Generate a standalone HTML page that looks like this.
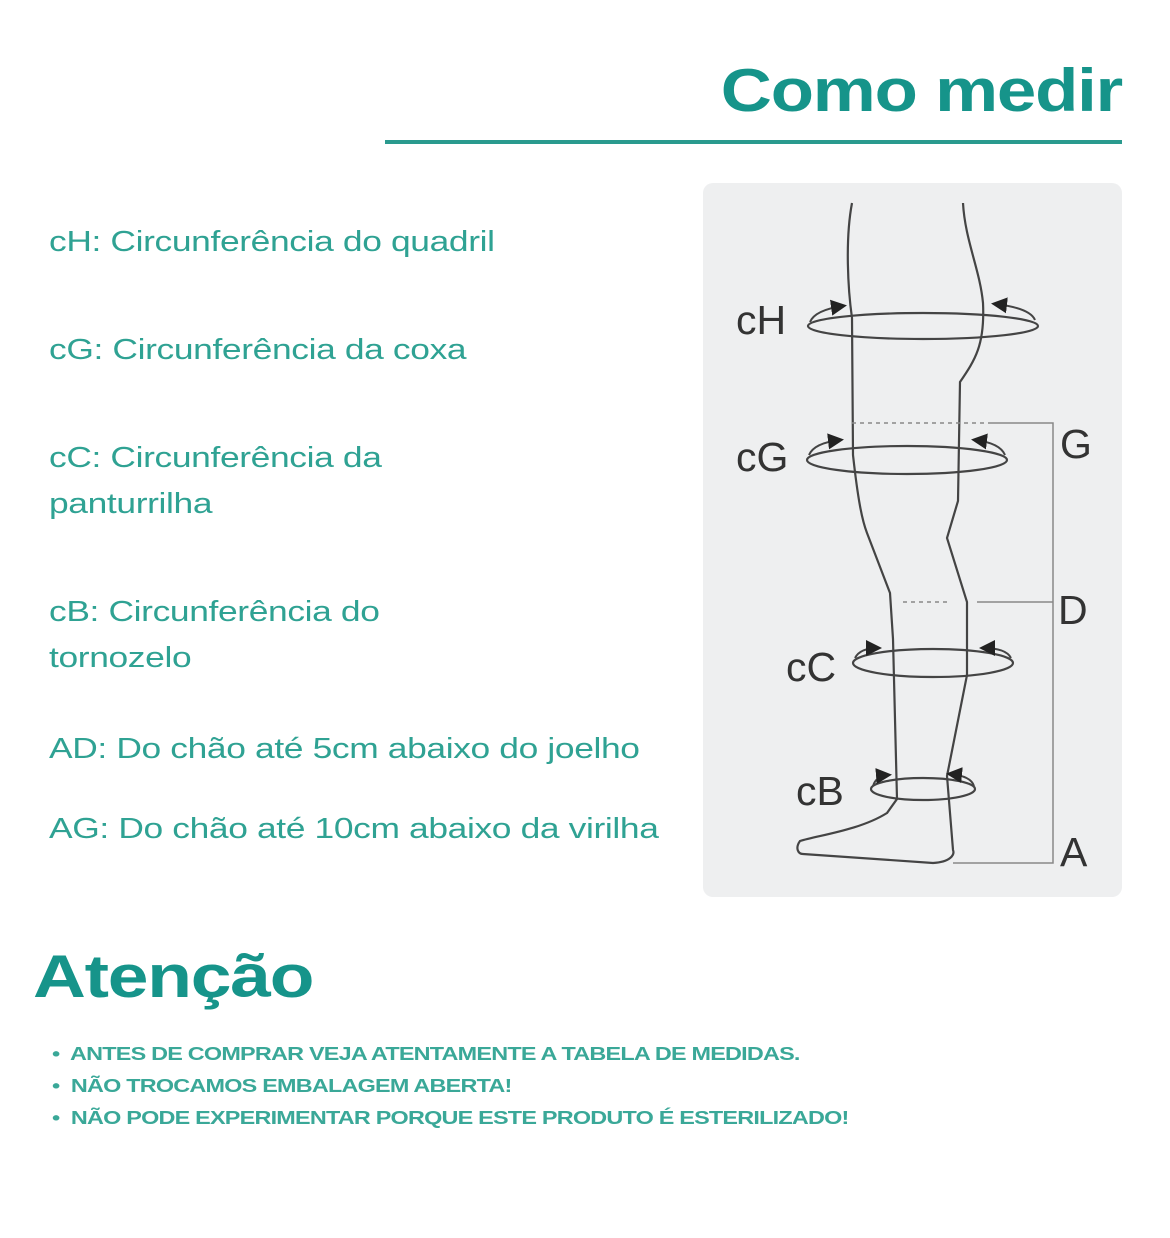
<!DOCTYPE html>
<html><head><meta charset="utf-8"><style>
body{margin:0;width:1170px;height:1238px;background:#fff;position:relative;overflow:hidden;font-family:"Liberation Sans",sans-serif}
.t{position:absolute;left:49px;color:#2fa293;font-size:29px;line-height:46px;letter-spacing:-0.3px;transform:scaleX(1.22);transform-origin:left;white-space:nowrap}
.b{position:absolute;left:52px;color:#3aa898;font-size:18px;font-weight:bold;letter-spacing:-0.6px;transform:scaleX(1.30);transform-origin:left;white-space:nowrap}
</style></head><body>
<div style="position:absolute;right:48px;top:56px;font-size:60px;font-weight:bold;color:#16948a;letter-spacing:-1px;transform:scaleX(1.18);transform-origin:right">Como medir</div>
<div style="position:absolute;left:385px;top:140px;width:737px;height:4px;background:#2a9a8e"></div>
<div class="t" style="top:219px">cH: Circunferência do quadril</div>
<div class="t" style="top:327px">cG: Circunferência da coxa</div>
<div class="t" style="top:435px">cC: Circunferência da<br>panturrilha</div>
<div class="t" style="top:589px">cB: Circunferência do<br>tornozelo</div>
<div class="t" style="top:726px">AD: Do chão até 5cm abaixo do joelho</div>
<div class="t" style="top:806px">AG: Do chão até 10cm abaixo da virilha</div>
<div style="position:absolute;left:703px;top:183px;width:419px;height:714px;background:#eeeff0;border-radius:10px"></div>
<svg width="1170" height="1238" style="position:absolute;left:0;top:0" font-family="Liberation Sans,sans-serif" fill="none" stroke="#444" stroke-width="2.2">
<defs><marker id="ar" markerWidth="8" markerHeight="8" refX="6" refY="4" orient="auto"><path d="M0,0L8,4L0,8z" fill="#222" stroke="none"/></marker></defs>
<path d="M852,203 C845,240 848,290 852,318 L853,455 C858,500 862,520 867,533 L890,593 L893,639 L897,799 L887,813 C860,830 820,835 800,841 C795,848 798,854 803,854 L933,863 C950,862 955,855 953,850 L947,776 L967,675 L967,602 L947,538 L958,501 L960,382 C975,360 985,345 983,303 C980,270 965,240 963,203"/>
<ellipse cx="923" cy="326" rx="115" ry="13"/>
<ellipse cx="907" cy="460" rx="100" ry="14"/>
<ellipse cx="933" cy="663" rx="80" ry="14"/>
<ellipse cx="923" cy="789" rx="52" ry="11"/>
<g stroke-width="2" marker-end="url(#ar)">
<path d="M810,322 Q815,310 843,306"/><path d="M1035,320 Q1030,308 995,304"/>
<path d="M809,455 Q814,443 840,440"/><path d="M1005,455 Q1000,443 975,440"/>
<path d="M855,658 Q860,648 878,648"/><path d="M1011,658 Q1006,648 983,648"/>
<path d="M873,786 Q876,776 888,775"/><path d="M974,786 Q971,776 950,774"/>
</g>
<g stroke="#888" stroke-width="1.5">
<path d="M852,423 H990" stroke-dasharray="4,4"/><path d="M990,423 H1053 V863 H953"/>
<path d="M903,602 H950" stroke-dasharray="4,4"/><path d="M977,602 H1053"/>
</g>
<g fill="#333" stroke="none" font-size="41">
<text x="736" y="334">cH</text><text x="736" y="471">cG</text>
<text x="786" y="681">cC</text><text x="796" y="805">cB</text>
<text x="1060" y="458">G</text><text x="1058" y="624">D</text><text x="1060" y="866">A</text>
</g>
</svg>
<div style="position:absolute;left:33px;top:942px;font-size:60px;font-weight:bold;color:#16948a;letter-spacing:-1px;transform:scaleX(1.22);transform-origin:left">Atenção</div>
<div class="b" style="top:1044px">•&nbsp; ANTES DE COMPRAR VEJA ATENTAMENTE A TABELA DE MEDIDAS.</div>
<div class="b" style="top:1076px">•&nbsp; NÃO TROCAMOS EMBALAGEM ABERTA!</div>
<div class="b" style="top:1108px">•&nbsp; NÃO PODE EXPERIMENTAR PORQUE ESTE PRODUTO É ESTERILIZADO!</div>
</body></html>
